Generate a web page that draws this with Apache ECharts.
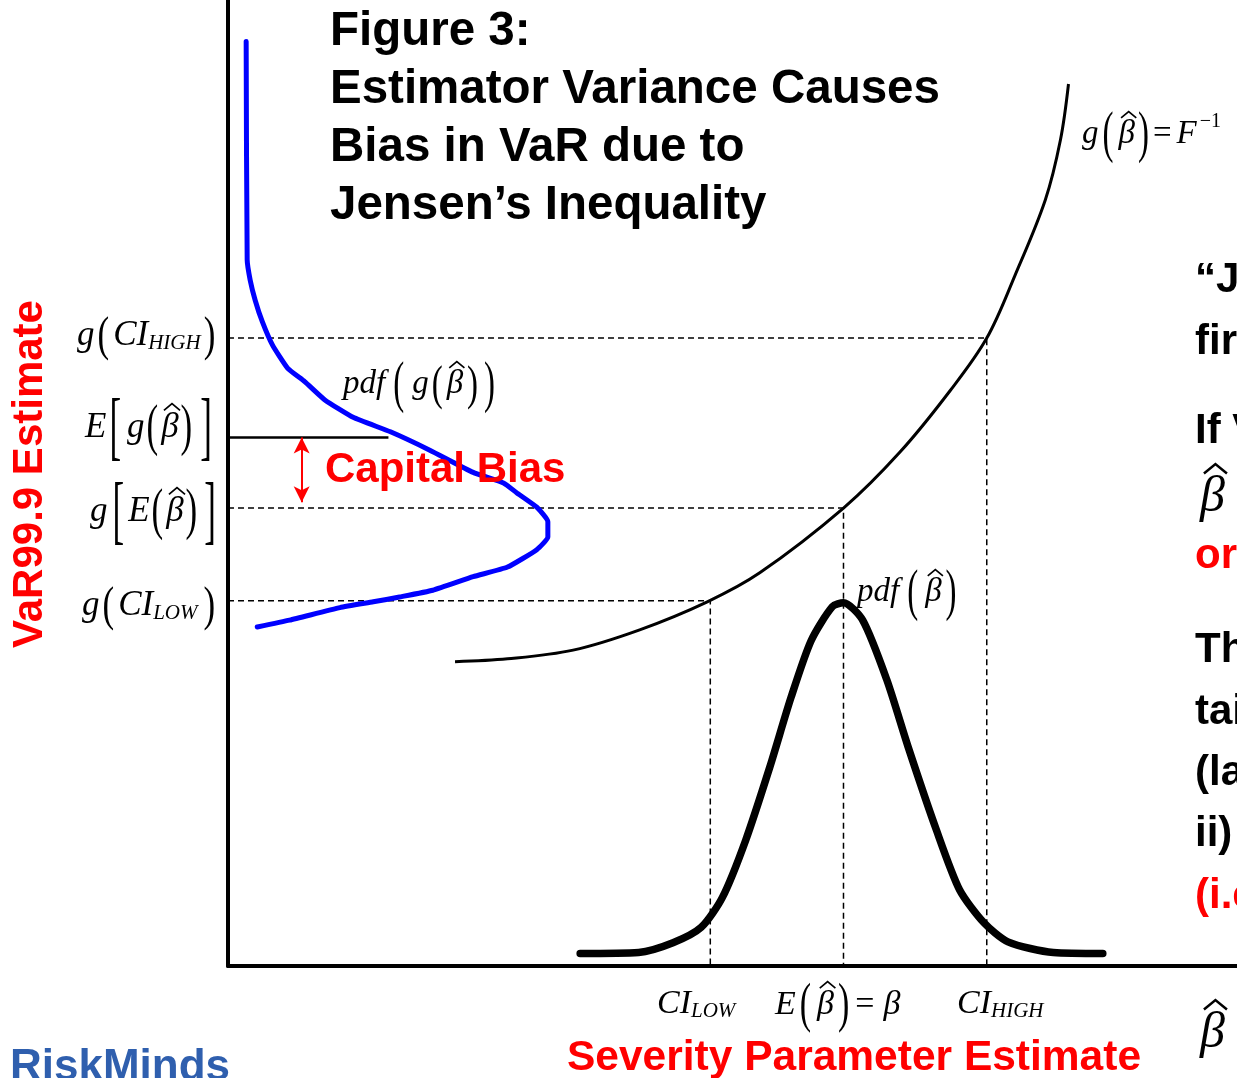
<!DOCTYPE html>
<html><head><meta charset="utf-8">
<script src="https://cdn.jsdelivr.net/npm/echarts@6/dist/echarts.min.js"></script>
<style>html,body{margin:0;padding:0;background:#fff}#c{width:1237px;height:1078px}</style>
</head><body><div id="c"></div>
<script>
// ---- data (conceptual units: x = severity parameter beta, y = VaR estimate) ----
const gCurve = [[2.25,3.15],[2.77,3.18],[3.42,3.27],[4.08,3.48],[4.75,3.77],[5.27,4.07],[6.10,4.74],[6.66,5.32],[7.16,5.96],[7.52,6.50],[7.80,7.15],[8.10,7.93],[8.25,8.55],[8.33,9.13]];
const pdfBeta = [[3.49,0.13],[4.07,0.14],[4.41,0.24],[4.69,0.40],[4.90,0.71],[5.13,1.30],[5.37,2.06],[5.58,2.78],[5.78,3.37],[5.99,3.72],[6.10,3.76],[6.29,3.58],[6.53,2.96],[6.74,2.27],[7.02,1.41],[7.25,0.79],[7.49,0.45],[7.73,0.25],[8.18,0.14],[8.67,0.13]];
const pdfG = [[0.18,9.57],[0.19,7.31],[0.22,7.10],[0.27,6.89],[0.34,6.67],[0.44,6.43],[0.59,6.19],[0.76,6.05],[0.96,5.86],[1.24,5.68],[1.61,5.53],[2.00,5.34],[2.43,5.11],[2.73,5.00],[2.86,4.90],[3.06,4.75],[3.17,4.60],[3.17,4.44],[3.06,4.31],[2.77,4.13],[2.43,4.03],[2.03,3.89],[1.70,3.82],[1.44,3.77],[1.11,3.71],[0.61,3.58],[0.29,3.51]];
const ciHigh = [7.52, 6.50];
const expBeta = [6.10, 4.74];
const ciLow = [4.78, 3.78];
const expG = [1.59, 5.47];
const biasArrow = [0.73, 5.47, 4.80];
const axisMax = [10, 10];
const titleLines = ['Figure 3:', 'Estimator Variance Causes', 'Bias in VaR due to', 'Jensen’s Inequality'];
const sideLines = [['“J','#000'],['fir','#000'],['If V','#000'],['or','#ff0000'],['Th','#000'],['tai','#000'],['(la','#000'],['ii)','#000'],['(i.e','#ff0000']];
const yTitle = 'VaR99.9 Estimate';
const xTitle = 'Severity Parameter Estimate';
const biasText = 'Capital Bias';
const logoText = 'RiskMinds';

// ---- math label helper ----
const mctx = document.createElement('canvas').getContext('2d');
function fontOf(p){ return (p.it ? 'italic ' : '') + p.s + 'px "Liberation Serif"'; }
function P(t, s, o){ return Object.assign({t:t, s:s, it:false, gap:0, dy:0, sy:1, hat:false}, o||{}); }
function mathLabel(x0, base, pieces, color){
  const els = []; let x = x0; const col = color || '#000';
  pieces.forEach(p => {
    x += p.gap;
    const font = fontOf(p);
    mctx.font = font;
    const w = mctx.measureText(p.t).width;
    const yb = base + p.dy;
    els.push({type:'text', x:x, y:yb - 0.30*p.s, scaleY:p.sy, z:20,
      style:{text:p.t, font:font, fill:col, align:'left', verticalAlign:'middle'}});
    if (p.hat){
      const cx = x + w*0.62, top = yb - 0.98*p.s;
      els.push({type:'polyline', z:20, shape:{points:[[cx-0.23*p.s, top+0.19*p.s],[cx, top],[cx+0.23*p.s, top+0.19*p.s]]},
        style:{stroke:col, lineWidth:Math.max(1.4, p.s/20), fill:null, lineJoin:'miter'}});
    }
    x += w;
  });
  return els;
}
const S = 35, s2 = 33;
const I = {it:true};
let graphics = [];
// g(CI_HIGH)
graphics = graphics.concat(mathLabel(77, 346, [P('g',S,I), P('(',S,{gap:3,sy:1.4,dy:2}), P('CI',S,{it:true,gap:4}), P('HIGH',21,{it:true,dy:4}), P(')',S,{gap:3,sy:1.4,dy:2})]));
// E[g(beta hat)]
graphics = graphics.concat(mathLabel(85, 438, [P('E',S,I), P('[',S,{gap:3,sy:2.2,dy:3}), P('g',S,{it:true,gap:6}), P('(',S,{gap:2,sy:1.6,dy:2}), P('β',S,{it:true,gap:3,hat:true}), P(')',S,{gap:2,sy:1.6,dy:2}), P(']',S,{gap:8,sy:2.2,dy:3})]));
// g[E(beta hat)]
graphics = graphics.concat(mathLabel(90, 522, [P('g',S,I), P('[',S,{gap:5,sy:2.2,dy:3}), P('E',S,{it:true,gap:4}), P('(',S,{gap:2,sy:1.6,dy:2}), P('β',S,{it:true,gap:3,hat:true}), P(')',S,{gap:2,sy:1.6,dy:2}), P(']',S,{gap:7,sy:2.2,dy:3})]));
// g(CI_LOW)
graphics = graphics.concat(mathLabel(82, 616, [P('g',S,I), P('(',S,{gap:3,sy:1.4,dy:2}), P('CI',S,{it:true,gap:4}), P('LOW',21,{it:true,dy:4}), P(')',S,{gap:6,sy:1.4,dy:2})]));
// pdf(g(beta hat))
graphics = graphics.concat(mathLabel(343, 394, [P('pdf',s2,I), P('(',s2,{gap:8,sy:1.75,dy:2}), P('g',s2,{it:true,gap:8}), P('(',s2,{gap:3,sy:1.5,dy:2}), P('β',s2,{it:true,gap:4,hat:true}), P(')',s2,{gap:4,sy:1.5,dy:2}), P(')',s2,{gap:6,sy:1.75,dy:2})]));
// pdf(beta hat)
graphics = graphics.concat(mathLabel(857, 602, [P('pdf',s2,I), P('(',s2,{gap:8,sy:1.7,dy:2}), P('β',s2,{it:true,gap:7,hat:true}), P(')',s2,{gap:4,sy:1.7,dy:2})]));
// g(beta hat) = F^-1
graphics = graphics.concat(mathLabel(1082, 144, [P('g',s2,I), P('(',s2,{gap:4,sy:1.7,dy:2}), P('β',s2,{it:true,gap:5,hat:true}), P(')',s2,{gap:3,sy:1.7,dy:2}), P('=',s2,{gap:4}), P('F',s2,{it:true,gap:5}), P('−1',20,{gap:3,dy:-16})]));
// bottom labels
graphics = graphics.concat(mathLabel(657, 1014, [P('CI',34,I), P('LOW',21,{it:true,dy:4})]));
graphics = graphics.concat(mathLabel(775, 1015, [P('E',34,I), P('(',34,{gap:4,sy:1.6,dy:2}), P('β',34,{it:true,gap:6,hat:true}), P(')',34,{gap:4,sy:1.6,dy:2}), P('=',34,{gap:6}), P('β',34,{it:true,gap:9})]));
graphics = graphics.concat(mathLabel(957, 1014, [P('CI',34,I), P('HIGH',21,{it:true,dy:4})]));
graphics = graphics.concat(mathLabel(1200, 1049, [P('β',50,{it:true,hat:true})]));
graphics = graphics.concat(mathLabel(1200, 513, [P('β',50,{it:true,hat:true})]));

const boldSans = s => 'bold ' + s + 'px "Liberation Sans"';
// title
const titleY = [32, 90, 148, 206];
titleLines.forEach((t, i) => graphics.push({type:'text', x:330, y:titleY[i], z:20, style:{text:t, font:boldSans(47.5), fill:'#000', align:'left', verticalAlign:'middle'}}));
// right side clipped text
const sideY = [280, 342, 431, 556, 650, 712, 773, 834, 896];
sideLines.forEach((l, i) => graphics.push({type:'text', x:1195, y:sideY[i], z:20, style:{text:l[0], font:boldSans(42), fill:l[1], align:'left', verticalAlign:'middle'}}));
// axis titles & annotations
graphics.push({type:'text', x:30, y:474, rotation:Math.PI/2, z:20, style:{text:yTitle, font:boldSans(42), fill:'#ff0000', align:'center', verticalAlign:'middle'}});
graphics.push({type:'text', x:854, y:1058, z:20, style:{text:xTitle, font:boldSans(42.5), fill:'#ff0000', align:'center', verticalAlign:'middle'}});
graphics.push({type:'text', x:325, y:470, z:20, style:{text:biasText, font:boldSans(42), fill:'#ff0000', align:'left', verticalAlign:'middle'}});
graphics.push({type:'text', x:10, y:1068, z:20, style:{text:logoText, font:boldSans(44), fill:'#2f5fae', align:'left', verticalAlign:'middle'}});

const dashStyle = {color:'#000', width:1.5, type:[6,4]};
function guide(pt){ return {type:'line', data:[[0,pt[1]],[pt[0],pt[1]],[pt[0],0]], showSymbol:false, lineStyle:dashStyle, z:2, silent:true}; }

const chart = echarts.init(document.getElementById('c'));
chart.setOption({
  animation:false,
  grid:{left:228, right:0, top:0, bottom:112, containLabel:false},
  xAxis:{type:'value', min:0, max:axisMax[0], axisLine:{show:true, onZero:false, lineStyle:{color:'#000', width:4}}, axisTick:{show:false}, axisLabel:{show:false}, splitLine:{show:false}},
  yAxis:{type:'value', min:0, max:axisMax[1], axisLine:{show:true, onZero:false, lineStyle:{color:'#000', width:4}}, axisTick:{show:false}, axisLabel:{show:false}, splitLine:{show:false}},
  series:[
    guide(ciHigh), guide(expBeta), guide(ciLow),
    {type:'line', data:gCurve, smooth:0.35, showSymbol:false, lineStyle:{color:'#000', width:3}, z:3},
    {type:'line', data:pdfBeta, smooth:0.25, showSymbol:false, lineStyle:{color:'#000', width:7.5, cap:'round', join:'round'}, z:4},
    {type:'line', data:pdfG, smooth:0.15, showSymbol:false, lineStyle:{color:'#0000ff', width:5, cap:'round', join:'round'}, z:5},
    {type:'line', data:[[0,expG[1]],[expG[0],expG[1]]], showSymbol:false, lineStyle:{color:'#000', width:2.5}, z:3},
    {type:'line', data:[], z:6,
      markLine:{silent:true, symbol:['arrow','arrow'], symbolSize:[12,16], label:{show:false}, lineStyle:{color:'#ff0000', width:2, type:'solid'},
        data:[[{coord:[biasArrow[0], biasArrow[1]]},{coord:[biasArrow[0], biasArrow[2]]}]]}}
  ],
  graphic:{elements:graphics}
});
</script></body></html>
